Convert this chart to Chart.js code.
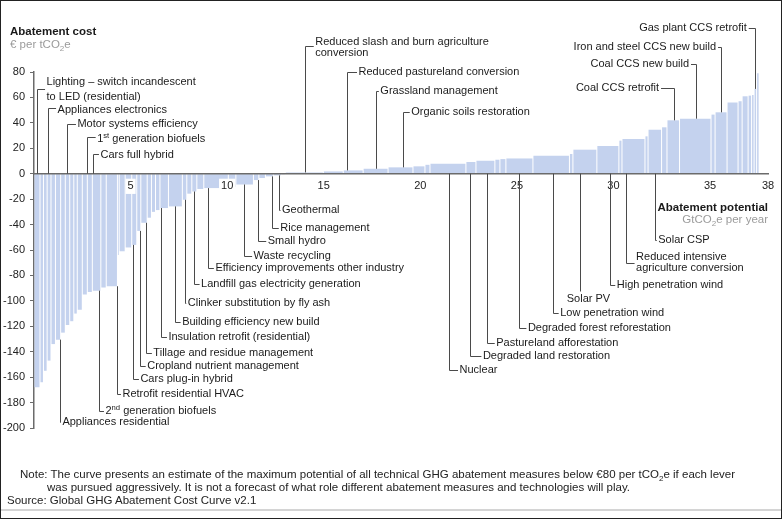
<!DOCTYPE html>
<html>
<head>
<meta charset="utf-8">
<script src="https://cdn.jsdelivr.net/npm/chart.js@4.4.1/dist/chart.umd.min.js"></script>
<style>
  html, body { margin: 0; padding: 0; background: #fff; }
  #wrap { position: relative; width: 784px; height: 521px; overflow: hidden; }
  #frame { position: absolute; left: 0; top: 0; width: 780px; height: 517px; border: 1px solid #222; pointer-events: none; }
  #rule { position: absolute; left: 1px; top: 509px; width: 780px; height: 2px; background: #d4d4d4; }
  .note { position: absolute; font: 11.5px "Liberation Sans Narrow", "Arial Narrow", sans-serif; color: #222; line-height: 13px; white-space: nowrap; }
  .note sub { font-size: 8px; line-height: 0; }
</style>
</head>
<body>
<div id="wrap">
  <canvas id="chart"></canvas>
  <div id="frame"></div>
  <div id="rule"></div>
  <div class="note" style="left:20px; top:468px">Note: The curve presents an estimate of the maximum potential of all technical GHG abatement measures below €80 per tCO<sub>2</sub>e if each lever</div>
  <div class="note" style="left:47px; top:481px">was pursued aggressively. It is not a forecast of what role different abatement measures and technologies will play.</div>
  <div class="note" style="left:7px; top:494px">Source: Global GHG Abatement Cost Curve v2.1</div>
</div>
<script>
// Abatement potential per lever (GtCO2e per year), left to right
const leverWidths = [
  0.31, 0.18, 0.19, 0.20, 0.23, 0.27, 0.24, 0.23, 0.21, 0.18,
  0.26, 0.26, 0.26, 0.44, 0.28, 0.58, 0.09, 0.31, 0.34, 0.26,
  0.21, 0.33, 0.22, 0.21, 0.23, 0.44, 0.72, 0.23, 0.26, 0.26,
  0.36, 1.27, 0.39, 0.91, 0.28, 0.34, 0.41, 0.41, 0.21, 1.97,
  1.03, 1.03, 1.29, 1.29, 0.62, 0.26, 1.86, 0.52, 0.98, 0.26,
  0.31, 1.40, 1.89, 0.18, 1.24, 1.14, 0.16, 1.19, 0.16, 0.70,
  0.28, 0.65, 1.63, 0.21, 0.62, 0.57, 0.21, 0.31, 0.18, 0.13,
  0.13, 0.13
]

// Abatement cost per lever (€ per tCO2e)
const leverCosts = [
  -168, -164, -155, -147, -134, -130.5, -125, -119, -116, -110,
  -107, -95, -93, -92, -89.5, -88.5, -64, -61, -58, -56,
  -45, -38.6, -34.6, -30, -28.6, -27, -25.7, -20.5, -15.7, -14,
  -12, -11.3, -10.3, -8.5, -5, -3.4, -2.1, -1.3, -0.6, 1,
  1.8, 2.6, 3.9, 5, 5.8, 7, 7.9, 9.2, 10.2, 11,
  11.5, 12, 14.2, 15.5, 18.9, 21.8, 26, 27.3, 29.4, 34.6,
  36.5, 42, 43.3, 46.5, 48.3, 56, 57, 60.9, 61.4, 62,
  66.7, 79
]

const xTicks = [5, 10, 15, 20, 25, 30, 35, 38]

// Beschriftungen: at = Hebel (Gt), level = Knick der Linie (€), tx = Textanfang (Gt)
const callouts = [
  { text: ['Lighting – switch incandescent', 'to LED (residential)'], at: 0.17, level: 66.3, ty: 72.3, lh: 15, tx: 0.65 },
  { text: ['Appliances electronics'], at: 0.73, level: 51.6, ty: 50.5, tx: 1.22 },
  { text: ['Motor systems efficiency'], at: 1.72, level: 39, tx: 2.25 },
  { text: ['1^st generation biofuels'], at: 2.72, level: 28.7, ty: 27, tx: 3.27 },
  { text: ['Cars full hybrid'], at: 3.04, level: 15.4, ty: 14.6, tx: 3.44 },
  { text: ['Appliances residential'], at: 1.33, level: -195, tx: 1.47 },
  { text: ['2^nd generation biofuels'], at: 3.35, level: -186.6, tx: 3.70 },
  { text: ['Retrofit residential HVAC'], at: 4.30, level: -173.2, tx: 4.58 },
  { text: ['Cars plug-in hybrid'], at: 5.13, level: -161.8, tx: 5.51 },
  { text: ['Cropland nutrient management'], at: 5.47, level: -151.2, tx: 5.86 },
  { text: ['Tillage and residue management'], at: 5.82, level: -141.1, tx: 6.18 },
  { text: ['Insulation retrofit (residential)'], at: 6.60, level: -128.7, tx: 6.96 },
  { text: ['Building efficiency new build'], at: 7.32, level: -116.9, tx: 7.67 },
  { text: ['Clinker substitution by fly ash'], at: 7.84, level: -101.7, tx: 7.96 },
  { text: ['Landfill gas electricity generation'], at: 8.30, level: -87, tx: 8.65 },
  { text: ['Efficiency improvements other industry'], at: 9.01, level: -74.2, tx: 9.39 },
  { text: ['Waste recycling'], at: 10.85, level: -64.7, tx: 11.37 },
  { text: ['Small hydro'], at: 11.60, level: -53.1, tx: 12.10 },
  { text: ['Rice management'], at: 12.32, level: -42.4, tx: 12.75 },
  { text: ['Geothermal'], at: 12.66, level: -28.2, tx: 12.84 },
  { text: ['Nuclear'], at: 21.46, level: -154.7, tx: 22.03 },
  { text: ['Degraded land restoration'], at: 22.55, level: -143.7, tx: 23.24 },
  { text: ['Pastureland afforestation'], at: 23.45, level: -132.9, tx: 23.93 },
  { text: ['Degraded forest reforestation'], at: 25.12, level: -121.1, tx: 25.57 },
  { text: ['Low penetration wind'], at: 26.86, level: -109.6, tx: 27.24 },
  { text: ['Solar PV'], at: 28.29, level: -92.5, ty: -98.3, tx: 27.58, under: true },
  { text: ['High penetration wind'], at: 29.82, level: -87.8, tx: 30.17 },
  { text: ['Reduced intensive', 'agriculture conversion'], at: 30.65, level: -70.5, ty: -65.5, lh: 11, tx: 31.17 },
  { text: ['Solar CSP'], at: 32.15, level: -51.8, tx: 32.32 },
  { text: ['Reduced slash and burn agriculture', 'conversion'], at: 14.01, level: 100.4, ty: 103.8, lh: 11.7, tx: 14.56 },
  { text: ['Reduced pastureland conversion'], at: 16.20, level: 80.2, tx: 16.80 },
  { text: ['Grassland management'], at: 17.72, level: 65.2, tx: 17.93 },
  { text: ['Organic soils restoration'], at: 19.10, level: 48.2, tx: 19.53 },
  { text: ['Gas plant CCS retrofit'], at: 37.33, level: 114.8, tx: 36.90, right: true },
  { text: ['Iron and steel CCS new build'], at: 35.57, level: 99.4, tx: 35.31, right: true },
  { text: ['Coal CCS new build'], at: 34.26, level: 86, tx: 33.91, right: true },
  { text: ['Coal CCS retrofit'], at: 33.15, level: 67.6, tx: 32.36, right: true }
]

// Balken mit variabler Breite aus den Hebel-Breiten
let cum = 0
const bars = leverWidths.map((w, i) => {
  const x0 = cum
  cum += w
  return { x: x0 + w / 2, y: leverCosts[i], x0: x0, x1: cum }
})

class VariableWidthBar extends Chart.BarController {
  _calculateBarIndexPixels(index) {
    const raw = this.getDataset().data[index]
    const xs = this._cachedMeta.iScale
    const left = xs.getPixelForValue(raw.x0)
    const right = xs.getPixelForValue(raw.x1)
    const size = Math.max(right - left - 1, 0.8)
    return { base: left, head: right, center: (left + right) / 2, size: size }
  }
}
VariableWidthBar.id = 'variableWidthBar'
Chart.register(VariableWidthBar)

const FONT = '"Liberation Sans", Arial, sans-serif'

// Text mit ^hoch und _tief
function richParts(str) {
  return str.split(/(\^[a-z]+|_\d)/).filter(s => s.length).map(s => {
    if (s[0] === '^') return { t: s.slice(1), mode: 'sup' }
    if (s[0] === '_') return { t: s.slice(1), mode: 'sub' }
    return { t: s, mode: null }
  })
}

function drawRich(ctx, str, x, y, size, weight, color, align) {
  const parts = richParts(str)
  const fontFor = p => (p.mode ? '' : weight + ' ') + (p.mode ? size * 0.7 : size) + 'px ' + FONT
  let width = 0
  parts.forEach(p => { ctx.font = fontFor(p); width += ctx.measureText(p.t).width })
  let cx = align === 'right' ? x - width : x
  ctx.fillStyle = color
  ctx.textAlign = 'left'
  ctx.textBaseline = 'middle'
  parts.forEach(p => {
    ctx.font = fontFor(p)
    const dy = p.mode === 'sup' ? -size * 0.3 : p.mode === 'sub' ? size * 0.3 : 0
    ctx.fillText(p.t, cx, y + dy)
    cx += ctx.measureText(p.t).width
  })
}

const calloutPlugin = {
  id: 'callouts',
  afterDraw(chart) {
    const { ctx, chartArea, scales: { x, y } } = chart
    ctx.save()

    // Achsentitel
    drawRich(ctx, 'Abatement cost', 10, 32, 11.5, 'bold', '#1a1a1a')
    drawRich(ctx, '€ per tCO_2e', 10, 45, 11.5, 'normal', '#9b9b9b')
    drawRich(ctx, 'Abatement potential', chartArea.right, 207.5, 11.5, 'bold', '#1a1a1a', 'right')
    drawRich(ctx, 'GtCO_2e per year', chartArea.right, 220, 11.5, 'normal', '#9b9b9b', 'right')

    ctx.strokeStyle = '#4a4a4a'
    ctx.lineWidth = 1
    callouts.forEach(c => {
      const bar = bars.find(b => c.at >= b.x0 && c.at < b.x1)
      const fromVal = bar && Math.sign(bar.y) === Math.sign(c.level) ? bar.y : 0
      const px = Math.round(x.getPixelForValue(c.at)) + 0.5
      const y0 = y.getPixelForValue(fromVal)
      const ye = Math.round(y.getPixelForValue(c.level)) + 0.5
      const tx = x.getPixelForValue(c.tx)

      ctx.beginPath()
      ctx.moveTo(px, y0)
      ctx.lineTo(px, ye)
      if (!c.under) {
        ctx.lineTo(c.right ? tx + 2 : tx - 1.5, ye)
      }
      ctx.stroke()

      const ty = y.getPixelForValue(c.ty !== undefined ? c.ty : c.level)
      const lh = c.lh || 12
      c.text.forEach((line, i) => {
        drawRich(ctx, line, tx, ty + i * lh, 11, 'normal', '#1b1b1b', c.right ? 'right' : 'left')
      })
    })
    ctx.restore()
  }
}

const tickFont = { family: FONT, size: 11 }

new Chart(document.getElementById('chart'), {
  type: 'variableWidthBar',
  data: {
    datasets: [{
      data: bars,
      backgroundColor: '#c4d2ee',
      borderWidth: 0
    }]
  },
  options: {
    animation: false,
    responsive: true,
    maintainAspectRatio: false,
    layout: { padding: { top: 72, right: 16, bottom: 93, left: 0 } },
    plugins: {
      legend: { display: false },
      tooltip: { enabled: false }
    },
    scales: {
      x: {
        type: 'linear',
        position: { y: 0 },
        min: 0,
        max: 38,
        offset: false,
        afterBuildTicks: scale => { scale.ticks = xTicks.map(v => ({ value: v })) },
        grid: { display: false, drawTicks: false, offset: false },
        border: { display: true, color: '#6b6b6b', width: 1.5, z: 1 },
        ticks: {
          z: 1,
          padding: 6,
          color: '#222',
          font: tickFont,
          autoSkip: false,
          maxRotation: 0,
          showLabelBackdrop: true,
          backdropColor: '#fff',
          backdropPadding: { x: 2, y: 1 }
        }
      },
      y: {
        type: 'linear',
        min: -200,
        max: 80,
        afterFit: scale => { scale.width = 34 },
        grid: { drawOnChartArea: false, tickLength: 4, color: '#6b6b6b' },
        border: { color: '#6b6b6b', width: 1.5 },
        ticks: { stepSize: 20, color: '#222', font: tickFont, padding: 5 }
      }
    }
  },
  plugins: [calloutPlugin]
})
</script>
</body>
</html>
